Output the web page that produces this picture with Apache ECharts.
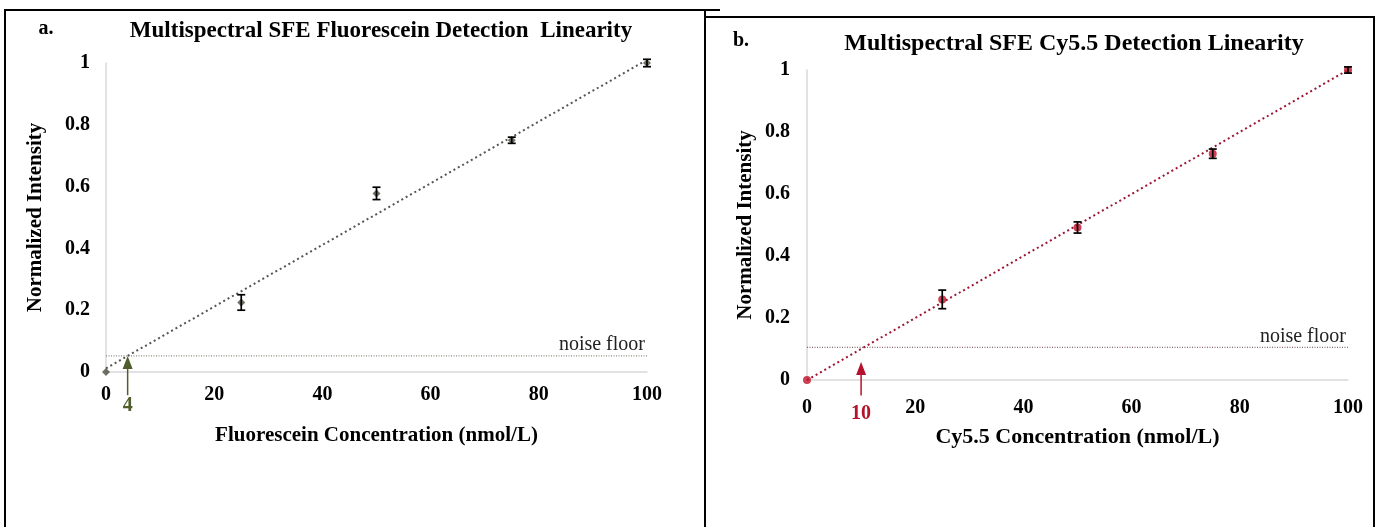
<!DOCTYPE html>
<html>
<head>
<meta charset="utf-8">
<script src="https://cdn.jsdelivr.net/npm/echarts@6/dist/echarts.min.js"></script>
<style>
html,body{margin:0;padding:0;background:#fff;}
#c{width:1377px;height:527px;}
</style>
</head>
<body>
<div id="c"></div>
<script>
// ---- data ----
const xTicks = [0, 20, 40, 60, 80, 100];
const yTicks = [0, 0.2, 0.4, 0.6, 0.8, 1];
const concLeft = [0, 25, 50, 75, 100];
const valLeft = [0, 0.225, 0.578, 0.75, 1.0];
const errLeft = [0, 0.025, 0.02, 0.01, 0.012];
const trendLeft = [[0, 0.012], [100, 1.01]];
const noiseLeft = 0.052;
const lodLeft = 4;

const concRight = [0, 25, 50, 75, 100];
const valRight = [0, 0.26, 0.492, 0.73, 1.0];
const errRight = [0, 0.03, 0.018, 0.015, 0.01];
const trendRight = [[0, 0.0], [100, 1.0]];
const noiseRight = 0.105;
const lodRight = 10;

const titleLeft = 'Multispectral SFE Fluorescein Detection  Linearity';
const titleRight = 'Multispectral SFE Cy5.5 Detection Linearity';
const xNameLeft = 'Fluorescein Concentration (nmol/L)';
const xNameRight = 'Cy5.5 Concentration (nmol/L)';
const yName = 'Normalized Intensity';

// ---- chart ----
const FONT = '"Liberation Serif", "Times New Roman", serif';
const chart = echarts.init(document.getElementById('c'), null, {renderer: 'canvas'});

function xAxis(gridIndex, name, gap, margin, nameSize) {
  return {
    type: 'value', gridIndex, min: xTicks[0], max: xTicks[xTicks.length - 1], interval: 20,
    name, nameLocation: 'middle', nameGap: gap,
    nameTextStyle: {fontFamily: FONT, fontWeight: 'bold', fontSize: nameSize, color: '#000'},
    axisLine: {show: true, onZero: false, lineStyle: {color: '#d9d9d9', width: 1.5}},
    axisTick: {show: false}, splitLine: {show: false},
    axisLabel: {fontFamily: FONT, fontWeight: 'bold', fontSize: 20, color: '#000', margin}
  };
}
function yAxis(gridIndex, gap, margin) {
  return {
    type: 'value', gridIndex, min: yTicks[0], max: yTicks[yTicks.length - 1], interval: 0.2,
    name: yName, nameLocation: 'middle', nameGap: gap,
    nameTextStyle: {fontFamily: FONT, fontWeight: 'bold', fontSize: 21, color: '#000'},
    axisLine: {show: true, lineStyle: {color: '#d9d9d9', width: 1.5}},
    axisTick: {show: false}, splitLine: {show: false},
    axisLabel: {fontFamily: FONT, fontWeight: 'bold', fontSize: 20, color: '#000', margin,
      formatter: v => String(+v.toFixed(1))}
  };
}

function errSeries(idx, xs, ys, es) {
  return {
    type: 'custom', xAxisIndex: idx, yAxisIndex: idx, z: 5,
    data: xs.map((x, i) => [x, ys[i], es[i]]),
    renderItem: (params, api) => {
      const x = api.value(0), y = api.value(1), e = api.value(2);
      if (!e) return null;
      const top = api.coord([x, y + e]);
      const bot = api.coord([x, y - e]);
      const w = 4;
      const st = {stroke: '#000', lineWidth: 1.7};
      return {type: 'group', children: [
        {type: 'line', shape: {x1: top[0], y1: top[1], x2: bot[0], y2: bot[1]}, style: st},
        {type: 'line', shape: {x1: top[0] - w, y1: top[1], x2: top[0] + w, y2: top[1]}, style: st},
        {type: 'line', shape: {x1: bot[0] - w, y1: bot[1], x2: bot[0] + w, y2: bot[1]}, style: st}
      ]};
    }
  };
}

function annoSeries(idx, lod, noise, color, lodText, arrowBottom, labelY) {
  return {
    type: 'custom', xAxisIndex: idx, yAxisIndex: idx, z: 6, clip: false,
    data: [[lod, noise]],
    renderItem: (params, api) => {
      const tip = api.coord([lod, arrowBottom[1]]);
      const bot = api.coord([lod, arrowBottom[0]]);
      const lab = api.coord([lod, labelY]);
      const nf = api.coord([100, noise]);
      return {type: 'group', children: [
        {type: 'line', shape: {x1: bot[0], y1: bot[1], x2: tip[0], y2: tip[1] + 8}, style: {stroke: color, lineWidth: 1.5}},
        {type: 'polygon', shape: {points: [[tip[0], tip[1]], [tip[0] - 5, tip[1] + 13], [tip[0] + 5, tip[1] + 13]]}, style: {fill: color}},
        {type: 'text', x: lab[0], y: lab[1], style: {text: lodText, fill: color, font: 'bold 20px ' + FONT, align: 'center', verticalAlign: 'middle'}},
        {type: 'text', x: nf[0] - 2, y: nf[1] - 1, style: {text: 'noise floor', fill: '#222', font: '20px ' + FONT, align: 'right', verticalAlign: 'bottom'}}
      ]};
    }
  };
}

const option = {
  animation: false,
  backgroundColor: '#fff',
  title: [
    {text: titleLeft, left: 376, top: 15, textAlign: 'center',
      textStyle: {fontFamily: FONT, fontWeight: 'bold', fontSize: 23, color: '#000'}},
    {text: 'a.', left: 41, top: 14, textAlign: 'center',
      textStyle: {fontFamily: FONT, fontWeight: 'bold', fontSize: 20, color: '#000'}},
    {text: titleRight, left: 1069, top: 27, textAlign: 'center',
      textStyle: {fontFamily: FONT, fontWeight: 'bold', fontSize: 24, color: '#000'}},
    {text: 'b.', left: 736, top: 26, textAlign: 'center',
      textStyle: {fontFamily: FONT, fontWeight: 'bold', fontSize: 20, color: '#000'}}
  ],
  grid: [
    {left: 106, top: 63, width: 541, height: 309},
    {left: 807, top: 70, width: 541, height: 310}
  ],
  xAxis: [xAxis(0, xNameLeft, 53, 13, 21), xAxis(1, xNameRight, 46, 18, 22)],
  yAxis: [yAxis(0, 60, 16), yAxis(1, 51, 17)],
  series: [
    {type: 'line', xAxisIndex: 0, yAxisIndex: 0, data: trendLeft, symbol: 'none', z: 2,
      lineStyle: {color: '#555', width: 2, type: [2, 3]}},
    {type: 'line', xAxisIndex: 0, yAxisIndex: 0, data: [[0, noiseLeft], [100, noiseLeft]], symbol: 'none', z: 1,
      lineStyle: {color: '#8a8f80', width: 1.2, type: [1, 1.5]}},
    {type: 'scatter', xAxisIndex: 0, yAxisIndex: 0, data: concLeft.map((x, i) => [x, valLeft[i]]),
      symbol: 'diamond', symbolSize: 8, itemStyle: {color: '#4a4f40'}, z: 4},
    errSeries(0, concLeft, valLeft, errLeft),
    annoSeries(0, lodLeft, noiseLeft, '#4f5e2a', String(lodLeft), [-0.075, noiseLeft], -0.11),

    {type: 'line', xAxisIndex: 1, yAxisIndex: 1, data: trendRight, symbol: 'none', z: 2,
      lineStyle: {color: '#9b1530', width: 2, type: [2, 3]}},
    {type: 'line', xAxisIndex: 1, yAxisIndex: 1, data: [[0, noiseRight], [100, noiseRight]], symbol: 'none', z: 1,
      lineStyle: {color: '#8a6a70', width: 1.2, type: [1, 1.5]}},
    {type: 'scatter', xAxisIndex: 1, yAxisIndex: 1, data: concRight.map((x, i) => [x, valRight[i]]),
      symbol: 'circle', symbolSize: 8, itemStyle: {color: '#c0102a'}, z: 4},
    errSeries(1, concRight, valRight, errRight),
    annoSeries(1, lodRight, noiseRight, '#b5122e', String(lodRight), [-0.05, 0.058], -0.11)
  ],
  graphic: [
    {type: 'polyline', shape: {points: [[5, 530], [5, 10], [720, 10]]}, style: {stroke: '#000', lineWidth: 2, fill: null}},
    {type: 'line', shape: {x1: 705, y1: 10, x2: 705, y2: 530}, style: {stroke: '#000', lineWidth: 2}},
    {type: 'polyline', shape: {points: [[705, 17], [1374, 17], [1374, 530]]}, style: {stroke: '#000', lineWidth: 2, fill: null}}
  ]
};
chart.setOption(option);
</script>
</body>
</html>
